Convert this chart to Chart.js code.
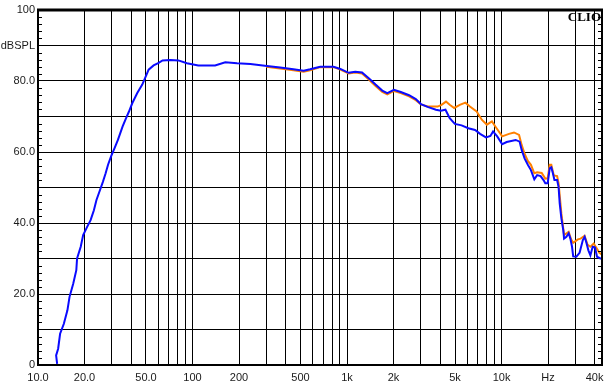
<!DOCTYPE html>
<html>
<head>
<meta charset="utf-8">
<script src="https://cdn.jsdelivr.net/npm/chart.js@4/dist/chart.umd.min.js"></script>
<style>
  html, body { margin: 0; padding: 0; background: #fff; }
  #wrap { width: 611px; height: 387px; position: relative; }
</style>
</head>
<body>
<div id="wrap"><canvas id="myChartClio"></canvas></div>
<script>
// frequency response, blue trace (Hz / dBSPL)
var blueFreq = [13.3,13.1,13.5,13.9,14.7,15.5,16.0,16.9,17.7,17.9,
  18.9,19.6,20.8,21.9,23.0,23.9,25.2,26.3,27.4,28.4,
  29.8,31.3,32.9,35.3,37.1,38.8,40.8,43.9,47.3,50.4,
  52,56,60.4,64,72,81,92,109,140,163,
  194,237,303,369,450,524,577,670,818,906,
  1024,1131,1251,1383,1530,1691,1822,2014,2228,2522,
  2788,3007,3324,3764,4054,4337,4620,4989,5515,6097,
  6740,7266,7930,8470,8820,9377,10100,10800,12350,13100,
  13500,14100,14800,15500,16300,17000,17900,18700,19200,19900,
  20500,21000,21500,22000,22900,23400,23800,24400,25100,25400,
  26300,27200,27900,28600,29100,30500,32000,33600,34500,35300,
  36500,37600,38900,40300,41500,43600,44700];
var blueDb = [0.3,2.7,4.6,8.8,11.6,15.4,19.2,22.9,26.7,30.0,
  33.3,36.6,38.9,40.8,43.6,46.5,49.3,51.6,54.0,56.4,
  58.9,61.1,63.4,67.2,69.5,71.4,73.8,76.6,79.0,81.8,
  83.2,84.4,85.1,85.8,85.9,85.8,85.0,84.4,84.4,85.3,
  85.0,84.8,84.2,83.8,83.3,82.9,83.3,84.0,84.0,83.4,
  82.3,82.6,82.4,80.8,79.0,77.3,76.6,77.5,76.9,76.0,
  74.9,73.5,72.7,71.9,71.6,71.9,69.5,67.9,67.5,66.7,
  66.2,65.1,64.1,64.5,65.8,64.4,62.2,62.8,63.4,62.9,
  60.6,58.2,56.4,54.9,52.3,53.5,53.2,52.1,51.2,51.2,
  55.4,55.7,54.0,52.1,52.1,50.2,45.5,41.3,38.0,35.6,
  36.1,37.1,35.6,33.3,30.6,30.5,31.6,35.2,36.1,34.7,
  32.3,30.9,33.3,33.1,30.5,30.0,30.0];

// orange trace (hidden under blue below 300 Hz)
var orangeFreq = [300,369,450,524,577,670,818,906,1024,1131,
  1251,1383,1530,1691,1822,2014,2228,2522,2788,3007,
  3324,3860,4090,4370,4620,4940,5370,5840,6240,6900,
  7450,8040,8670,9120,10100,11180,12040,12990,13500,14100,
  14800,15500,16300,17000,18200,19200,19900,20500,21000,21800,
  22900,23400,24400,25400,27200,28200,29100,31200,32500,34500,
  36000,37600,39500,41000,43000,44700];
var orangeDb = [84.0,83.5,83.0,82.6,83.0,83.9,83.9,83.2,82.1,82.4,
  82.1,80.4,78.6,76.9,76.2,77.2,76.6,75.7,74.6,73.4,
  72.8,72.8,73.3,74.2,73.3,72.4,73.3,73.9,72.8,71.4,
  69.1,67.7,68.6,67.2,64.4,65.1,65.5,64.8,62.0,59.5,
  57.5,56.4,54.0,54.3,54.1,52.5,52.6,56.4,56.4,53.4,
  53.2,51.2,42.7,36.6,37.5,35.4,34.4,35.4,35.6,36.4,
  33.9,33.3,34.2,33.1,31.6,31.1];

// axis grid + labels
var xGrid = [10,20,30,40,50,60,70,80,90,
  100,200,300,400,500,600,700,800,900,
  1000,2000,3000,4000,5000,6000,7000,8000,9000,
  10000,20000,30000,40000];
var xLabels = {10:'10.0',20:'20.0',50:'50.0',100:'100',200:'200',500:'500',
  1000:'1k',2000:'2k',5000:'5k',10000:'10k',20000:'Hz',40000:'40k'};
var yLabels = {100:'100',90:'dBSPL',80:'80.0',60:'60.0',40:'40.0',20:'20.0',0:'0'};

function toPoints(fs, ds) {
  var out = [];
  for (var i = 0; i < fs.length; i++) out.push({x: fs[i], y: ds[i]});
  return out;
}

var clioDeco = {
  id: 'clioDeco',
  afterDraw: function(chart) {
    var ctx = chart.ctx, a = chart.chartArea, ys = chart.scales.y;
    ctx.save();
    // minor ticks every 2 dB, inside left and right border
    ctx.strokeStyle = '#000';
    ctx.lineWidth = 1;
    ctx.beginPath();
    for (var v = 2; v < 100; v += 2) {
      if (v % 10 === 0) continue;
      var py = Math.round(ys.getPixelForValue(v)) + 0.5;
      ctx.moveTo(a.left, py); ctx.lineTo(a.left + 4, py);
      ctx.moveTo(a.right - 4, py); ctx.lineTo(a.right, py);
    }
    ctx.stroke();
    // frame
    ctx.lineWidth = 2;
    ctx.strokeRect(a.left, a.top, a.right - a.left, a.bottom - a.top);
    ctx.lineWidth = 3;
    ctx.beginPath();
    ctx.moveTo(a.left - 1, a.top); ctx.lineTo(a.right + 1, a.top);
    ctx.stroke();
    // logo
    ctx.fillStyle = '#000';
    ctx.font = 'bold 13px "Liberation Serif", "Times New Roman", serif';
    ctx.textAlign = 'right';
    ctx.textBaseline = 'alphabetic';
    ctx.fillText('CLIO', a.right - 1, a.top + 11);
    ctx.restore();
  }
};

var ctx = document.getElementById('myChartClio');
var myChart = new Chart(ctx, {
  type: 'scatter',
  data: {
    datasets: [{
      label: 'blue',
      data: toPoints(blueFreq, blueDb),
      showLine: true,
      borderColor: '#0a0aff',
      borderWidth: 2,
      pointRadius: 0,
      order: 0
    }, {
      label: 'orange',
      data: toPoints(orangeFreq, orangeDb),
      showLine: true,
      borderColor: '#ff8000',
      borderWidth: 2,
      pointRadius: 0,
      order: 1
    }]
  },
  options: {
    responsive: true,
    maintainAspectRatio: false,
    animation: false,
    layout: { padding: { top: 10, right: 9, left: 0, bottom: 0 } },
    plugins: { legend: { display: false }, tooltip: { enabled: false } },
    scales: {
      x: {
        type: 'logarithmic',
        min: 10,
        max: 44700,
        afterBuildTicks: function(scale) {
          scale.ticks = xGrid.map(function(v) { return {value: v}; });
        },
        afterFit: function(scale) { scale.height = 22; },
        grid: { color: '#000', lineWidth: 1, drawTicks: false },
        border: { display: false },
        ticks: {
          autoSkip: false,
          maxRotation: 0,
          padding: 6,
          color: '#1a1a1a',
          font: { family: 'Arial, "Liberation Sans", sans-serif', size: 11 },
          callback: function(v) { return xLabels[v] || ''; }
        }
      },
      y: {
        min: 0,
        max: 100,
        afterFit: function(scale) { scale.width = 38; },
        grid: { color: '#000', lineWidth: 1, drawTicks: false },
        border: { display: false },
        ticks: {
          stepSize: 10,
          padding: 3,
          color: '#1a1a1a',
          font: { family: 'Arial, "Liberation Sans", sans-serif', size: 11 },
          callback: function(v) { return yLabels[v] !== undefined ? yLabels[v] : ''; }
        }
      }
    }
  },
  plugins: [clioDeco]
});
</script>
</body>
</html>
